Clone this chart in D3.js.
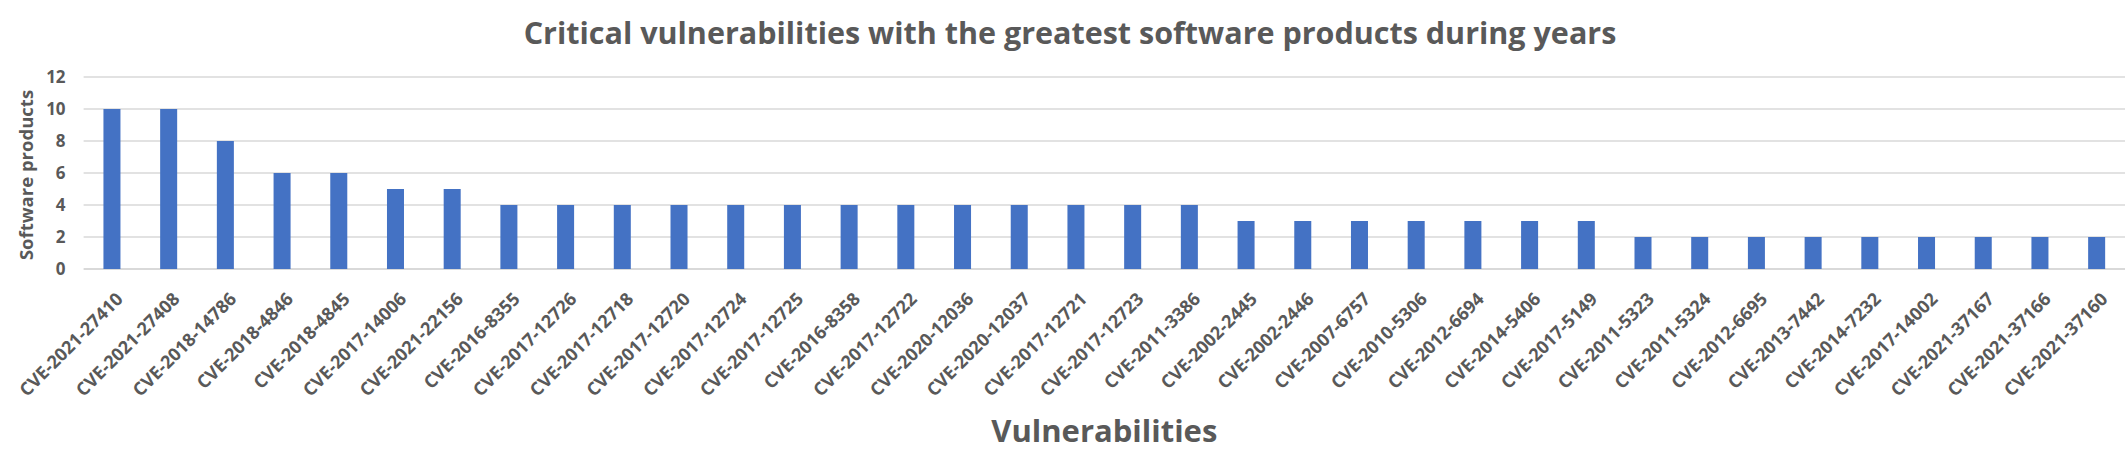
<!DOCTYPE html>
<html><head><meta charset="utf-8">
<script src="https://cdn.jsdelivr.net/npm/d3@7"></script>
<style>
html,body{margin:0;padding:0;background:#fff;}
svg{display:block;}
text{font-family:"Open Sans","Noto Sans",sans-serif;}
</style></head>
<body>
<svg id="chart" width="2127" height="474"></svg>
<script>
const categories = ["CVE-2021-27410","CVE-2021-27408","CVE-2018-14786","CVE-2018-4846","CVE-2018-4845","CVE-2017-14006","CVE-2021-22156","CVE-2016-8355","CVE-2017-12726","CVE-2017-12718","CVE-2017-12720","CVE-2017-12724","CVE-2017-12725","CVE-2016-8358","CVE-2017-12722","CVE-2020-12036","CVE-2020-12037","CVE-2017-12721","CVE-2017-12723","CVE-2011-3386","CVE-2002-2445","CVE-2002-2446","CVE-2007-6757","CVE-2010-5306","CVE-2012-6694","CVE-2014-5406","CVE-2017-5149","CVE-2011-5323","CVE-2011-5324","CVE-2012-6695","CVE-2013-7442","CVE-2014-7232","CVE-2017-14002","CVE-2021-37167","CVE-2021-37166","CVE-2021-37160"];
const values = [10,10,8,6,6,5,5,4,4,4,4,4,4,4,4,4,4,4,4,4,3,3,3,3,3,3,3,2,2,2,2,2,2,2,2,2];
const yTicks = [0,2,4,6,8,10,12];
const title = "Critical vulnerabilities with the greatest software products during years";
const xTitle = "Vulnerabilities";
const yTitle = "Software products";

const svg = d3.select("#chart");
const pLeft = 83.6, pRight = 2125, pTop = 77, pBottom = 269;
const x = d3.scaleBand().domain(categories).range([pLeft, pRight]).paddingInner(0.7).paddingOuter(0.35);
const y = d3.scaleLinear().domain([0, 12]).range([pBottom, pTop]);
const grey = "#595959";

// gridlines
svg.append("g").selectAll("line").data(yTicks).join("line")
  .attr("x1", pLeft).attr("x2", pRight)
  .attr("y1", d => y(d)).attr("y2", d => y(d))
  .attr("stroke", "#d9d9d9").attr("stroke-width", d => d === 0 ? 2 : 1.5);

// bars
svg.append("g").selectAll("rect").data(values).join("rect")
  .attr("x", (d, i) => x(categories[i]))
  .attr("y", d => y(d))
  .attr("width", x.bandwidth())
  .attr("height", d => y(0) - y(d))
  .attr("fill", "#4472C4");

// y axis labels
const yAxis = d3.axisLeft(y).tickValues(yTicks).tickSize(0).tickPadding(18);
const ya = svg.append("g").attr("transform", `translate(${pLeft},0)`).call(yAxis);
ya.select(".domain").remove();
ya.selectAll("text").attr("font-size", 17).attr("font-weight", "bold").attr("fill", grey)
  .style("font-family", '"Open Sans","Noto Sans",sans-serif');

// x axis labels
const xAxis = d3.axisBottom(x).tickSize(0).tickPadding(0);
const xa = svg.append("g").attr("transform", `translate(0,${pBottom})`).call(xAxis);
xa.select(".domain").remove();
xa.selectAll("text")
  .attr("font-size", 18).attr("font-weight", "bold").attr("fill", grey)
  .style("font-family", '"Open Sans","Noto Sans",sans-serif')
  .attr("y", 0)
  .attr("text-anchor", "end")
  .attr("dy", "0.72em")
  .attr("transform", "translate(3,22) rotate(-45)");

// title
svg.append("text").attr("x", 1070).attr("y", 44).attr("text-anchor", "middle")
  .attr("font-size", 30.5).attr("font-weight", "bold").attr("fill", grey).text(title);

// x title
svg.append("text").attr("x", (pLeft + pRight) / 2).attr("y", 442).attr("text-anchor", "middle")
  .attr("font-size", 31).attr("font-weight", "bold").attr("fill", grey).text(xTitle);

// y title
svg.append("text").attr("transform", `translate(33,${(pTop + pBottom) / 2 + 2}) rotate(-90)`)
  .attr("text-anchor", "middle")
  .attr("font-size", 18.5).attr("font-weight", "bold").attr("fill", grey).text(yTitle);
</script>
</body></html>
